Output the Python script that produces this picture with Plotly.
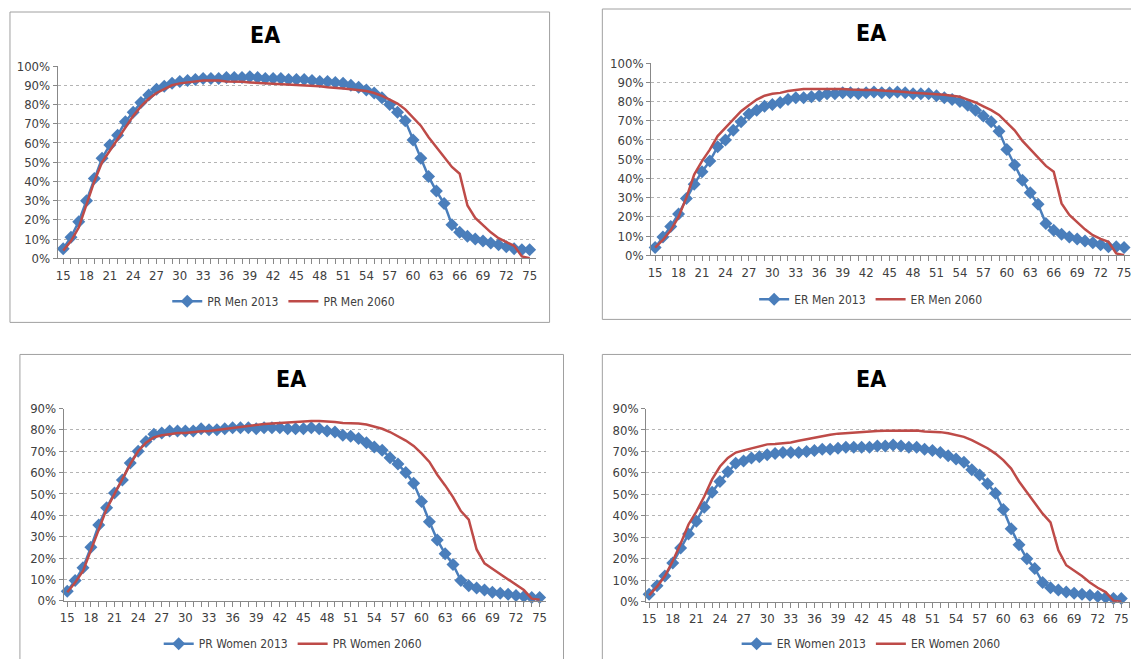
import plotly.graph_objects as go

ages = list(range(15, 76))

pr_men_2013 = [5, 11, 19, 30, 41.5, 52, 59, 64, 71, 76, 81, 85, 88, 89.5, 91, 92, 92.5, 93, 93.5, 93.5,
               93.5, 94, 94, 94, 94.5, 94, 93.5, 93.5, 93.5, 93, 93, 93, 92.5, 92, 92, 91.5, 91, 90, 89, 87.5,
               86, 83.5, 80, 76, 71.5, 61.5, 52, 42.5, 35, 28.5, 17.5, 13.5, 11.5, 10, 9, 8, 7, 6, 5, 4.5, 4.5]
pr_men_2060 = [4, 9, 16, 28, 40, 50, 56, 62, 68, 74, 79, 83, 86, 88, 90, 91, 91.5, 92, 92.5, 92.5,
               92.5, 92, 92, 91.8, 91.5, 91.3, 91, 91, 90.8, 90.5, 90.2, 90, 89.8, 89.5, 89, 88.5, 88.3, 88, 87.5, 87,
               86, 84.5, 82.5, 80.5, 77.5, 73.5, 69, 63, 58, 53, 47.5, 44, 27.5, 21, 17, 13.5, 10.5, 8.5, 6.5, 1, 0]

er_men_2013 = [4, 9.5, 15, 21.5, 29.5, 37, 43.5, 49, 56.5, 60, 65, 69.5, 73.5, 75.5, 77.5, 78.5, 79.5, 81, 82, 82,
               82.5, 83, 84, 84, 84.5, 84.5, 84, 84.5, 85, 84.5, 84.5, 85, 84.5, 84, 84, 84, 83, 82, 81, 80,
               78, 75.5, 72.5, 69.5, 64.5, 55, 47, 39, 32.5, 26.5, 16.5, 13, 11, 9.5, 8.5, 7.5, 6.5, 5.5, 4.5, 4.5, 4]
er_men_2060 = [4, 8, 13, 20, 30, 42, 49, 55, 62, 66.5, 71, 75, 78, 81, 83, 84, 84.5, 85.5, 86, 86.5,
               86.5, 86.5, 86.5, 86.7, 86.5, 86.2, 86, 86, 86, 85.8, 85.5, 85.3, 85, 84.5, 84.3, 84, 83.8, 83.5, 83, 82.5,
               81, 79.5, 77.5, 75.5, 73, 69, 65, 59.5, 55, 50.5, 46.5, 43.5, 27, 21, 17, 13.5, 10.5, 8.5, 7, 1, 0]

pr_women_2013 = [4.5, 9.5, 15.5, 25, 35.5, 43.5, 50.5, 56.5, 64.5, 70, 74.5, 78, 78.5, 79.5, 79.5, 79.5, 79.5, 80.5, 80, 80,
                 80.5, 81, 81, 81, 80.5, 81, 81, 81, 80.5, 80.5, 80.5, 81, 80.5, 79.5, 79, 77.5, 77, 76, 74, 72,
                 70.5, 67, 64, 60, 55, 46.5, 37, 28.5, 22, 17, 9.5, 7, 6, 5, 4, 3.5, 3, 2.5, 2, 1.5, 1.5]
pr_women_2060 = [4, 8.5, 14, 24, 34, 43, 50, 57, 64, 70, 74, 76.5, 77.5, 78, 78.5, 78.5, 79, 79.3, 79.5, 80,
                 80.3, 80.8, 81.3, 81.8, 82.3, 82.7, 83, 83.3, 83.5, 83.7, 84, 84.2, 84.2, 84, 83.7, 83.2, 83.2, 83, 82.5, 81.5,
                 80.5, 79, 77, 75, 72.5, 69, 65, 59, 54, 48.5, 42, 38, 24, 17.5, 15, 12.5, 10, 7.5, 5, 1, 0.5]

er_women_2013 = [3.5, 7.5, 12, 18, 25, 31.5, 37.5, 44, 51, 56, 60.5, 64.5, 65.5, 67, 67.5, 68.5, 69, 69.5, 69.5, 69.5,
                 70, 70.5, 71, 71, 71.5, 72, 72, 72, 72, 72.5, 72.5, 73, 72.5, 72, 72, 71, 70.5, 69.5, 68, 66.5,
                 65, 61.5, 59, 55, 50.5, 43, 34, 26.5, 20, 15.5, 9, 6.5, 5.5, 4.5, 4, 3.5, 3, 2.5, 2, 1.5, 1.5]
er_women_2060 = [3, 7, 12, 19, 27, 36, 42, 49, 57, 63, 67, 69.5, 70.5, 71.5, 72.5, 73.3, 73.5, 73.7, 74.2, 75,
                 75.7, 76.5, 77.3, 77.8, 78.3, 78.6, 78.8, 79, 79.3, 79.5, 79.6, 79.7, 79.8, 79.8, 79.8, 79.3, 79.3, 79, 78.5, 77.8,
                 76.8, 75.3, 73.5, 71.5, 69, 66, 62, 56, 51, 46, 41, 37, 24, 17, 14.5, 12, 9, 6.5, 4.5, 0.5, 0]

x_tick_labels = [str(a) for a in range(15, 76, 3)]
title_text = "EA"

W, H = 1131, 659
BLUE = "#4A7EBB"
RED = "#BE4B48"
FONT = "Liberation Sans Narrow, DejaVu Sans Condensed, Arial Narrow, sans-serif"
TXT = "#404040"


def px(x):
    return x / W


def py(y):
    # vertical pixel position in the window (empirically calibrated)
    y2 = (y - 7) / 0.976
    return 1 - y2 / H


panels = [
    dict(s=(pr_men_2013, pr_men_2060), n=("PR Men 2013", "PR Men 2060"), xd=(54, 534), yd=(258, 66), ymax=1.0,
         xr=(14.3, 75.77), border=(6, 12, 548, 322), title=(262, 35), leg=(281, 301)),
    dict(s=(er_men_2013, er_men_2060), n=("ER Men 2013", "ER Men 2060"), xd=(650, 1131), yd=(255, 63), ymax=1.0,
         xr=(14.49, 75.76), border=(601, 9, 1140, 319), title=(871, 33), leg=(871, 299)),
    dict(s=(pr_women_2013, pr_women_2060), n=("PR Women 2013", "PR Women 2060"), xd=(60, 544), yd=(600, 408), ymax=0.9,
         xr=(14.55, 75.76), border=(16, 354, 562, 680), title=(288, 379), leg=(290, 643)),
    dict(s=(er_women_2013, er_women_2060), n=("ER Women 2013", "ER Women 2060"), xd=(645, 1131), yd=(601, 408), ymax=0.9,
         xr=(14.62, 76.1), border=(601, 354, 1140, 680), title=(871, 379), leg=(871, 643)),
]

fig = go.Figure()
layout = dict(width=W, height=H, margin=dict(l=0, r=0, t=0, b=0), paper_bgcolor="white",
              plot_bgcolor="white", showlegend=True, annotations=[], shapes=[])

for i, p in enumerate(panels):
    k = "" if i == 0 else str(i + 1)
    leg = "legend" + k
    xa, ya = "x" + k, "y" + k
    s13, s60 = p["s"]
    fig.add_trace(go.Scatter(x=ages, y=[v / 100 for v in s13], name=p["n"][0], mode="lines+markers",
                             line=dict(color=BLUE, width=2.5), marker=dict(symbol="diamond", size=10, color=BLUE),
                             xaxis=xa, yaxis=ya, legend=leg, cliponaxis=False))
    fig.add_trace(go.Scatter(x=ages, y=[v / 100 for v in s60], name=p["n"][1], mode="lines",
                             line=dict(color=RED, width=2.5), xaxis=xa, yaxis=ya, legend=leg))
    layout["xaxis" + k] = dict(domain=[px(p["xd"][0]), min(1.0, px(p["xd"][1]))], range=list(p["xr"]), anchor=ya,
                               tickvals=list(range(15, 76, 3)), ticktext=x_tick_labels,
                               ticks="outside", ticklen=5, tickcolor="#888888", ticklabeloverflow="allow",
                               minor=dict(dtick=1, tick0=15, ticks="outside", ticklen=5, tickcolor="#888888", showgrid=False),
                               showline=True, linecolor="#888888", linewidth=1, showgrid=False, zeroline=False,
                               tickfont=dict(family=FONT, size=13, color=TXT), fixedrange=True)
    layout["yaxis" + k] = dict(domain=[py(p["yd"][0]), py(p["yd"][1])], range=[0, p["ymax"]], anchor=xa,
                               dtick=0.1, tickformat=".0%", ticks="outside", ticklen=4, tickcolor="#888888",
                               showline=True, linecolor="#888888", linewidth=1,
                               showgrid=True, gridcolor="#b4b4b4", griddash="dot", gridwidth=1, zeroline=False,
                               tickfont=dict(family=FONT, size=13, color=TXT), fixedrange=True)
    layout[leg] = dict(orientation="h", x=px(p["leg"][0]), y=py(p["leg"][1]), xanchor="center", yanchor="middle",
                       font=dict(family=FONT, size=12, color=TXT), bgcolor="rgba(0,0,0,0)", itemwidth=30,
                       tracegroupgap=0)
    bx0, by0, bx1, by1 = p["border"]
    layout["shapes"].append(dict(type="rect", xref="paper", yref="paper", x0=px(bx0), x1=px(bx1),
                                 y0=py(by1), y1=py(by0), line=dict(color="#a0a0a0", width=1)))
    layout["annotations"].append(dict(text="<b>" + title_text + "</b>", xref="paper", yref="paper",
                                      x=px(p["title"][0]), y=py(p["title"][1]), xanchor="center", yanchor="middle",
                                      showarrow=False, font=dict(family=FONT, size=23, color="black")))

fig.update_layout(**layout)
# remove the default page margin so the 1131x659 figure fills the window exactly
fig.write_html("out.html", config={"displayModeBar": False},
               post_script="document.documentElement.style.margin='0';document.body.style.margin='0';"
                           "document.body.style.overflow='hidden';")
